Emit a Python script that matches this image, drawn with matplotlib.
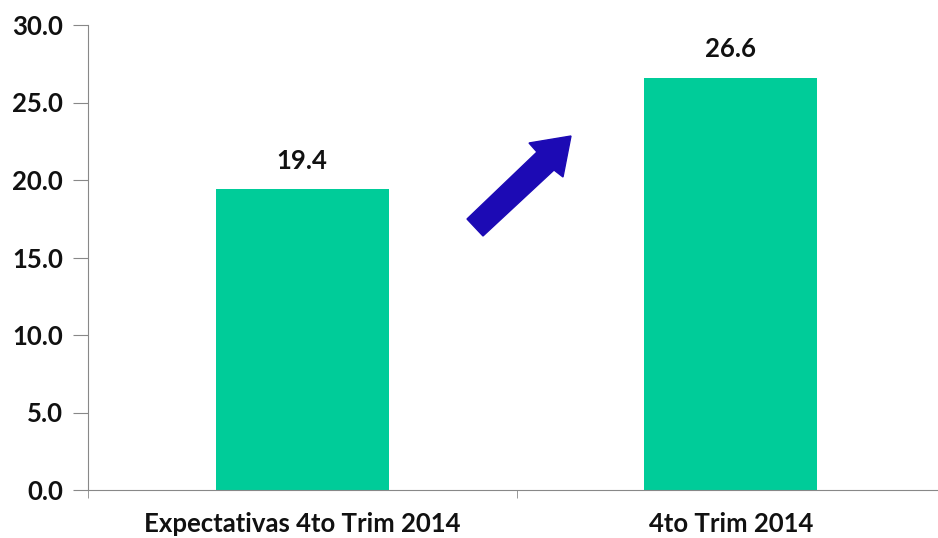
import matplotlib.pyplot as plt
from matplotlib.patches import Polygon

categories = ['Expectativas 4to Trim 2014', '4to Trim 2014']
values = [19.4, 26.6]
yticks = [0, 5, 10, 15, 20, 25, 30]

W, H = 938, 538
fig = plt.figure(figsize=(W / 100, H / 100), dpi=100)
ax = fig.add_axes([88 / W, 48 / H, 857 / W, 465 / H])

font = dict(family='Lato', weight='bold')
fs = 18.5
bars = ax.bar(range(len(values)), values, width=0.404, color='#00CC99')
for b, v in zip(bars, values):
    ax.annotate(f'{v:.1f}', (b.get_x() + b.get_width() / 2, v),
                xytext=(0, 12), textcoords='offset points',
                ha='center', va='bottom', fontsize=fs, color='#111111', **font)

ax.set_xlim(-0.5, 1.5)
ax.set_ylim(0, 30)
ax.set_yticks(yticks)
ax.set_yticklabels([f'{t:.1f}' for t in yticks], fontsize=fs, color='#111111', **font)
ax.set_xticks(range(len(categories)))
ax.set_xticklabels(categories, fontsize=fs, color='#111111', **font)
ax.tick_params(axis='x', length=0, pad=16)
ax.set_xticks([-0.5, 0.5, 1.5], minor=True)
ax.tick_params(axis='x', which='minor', length=6, color='#888888', direction='out')
ax.tick_params(axis='y', length=11, color='#888888', pad=7)
for s in ['top', 'right']:
    ax.spines[s].set_visible(False)
for s in ['left', 'bottom']:
    ax.spines[s].set_color('#888888')

# flecha decorativa (en pixeles de la figura)
pts = [(467, 219), (537, 152), (529, 143), (571, 136), (563, 177), (554, 170), (483, 236)]
arrow = Polygon([(x / W, 1 - y / H) for x, y in pts], closed=True,
                transform=fig.transFigure, color='#1C0AB4', zorder=5)
fig.patches.append(arrow)

fig.savefig('out.png', dpi=100)
